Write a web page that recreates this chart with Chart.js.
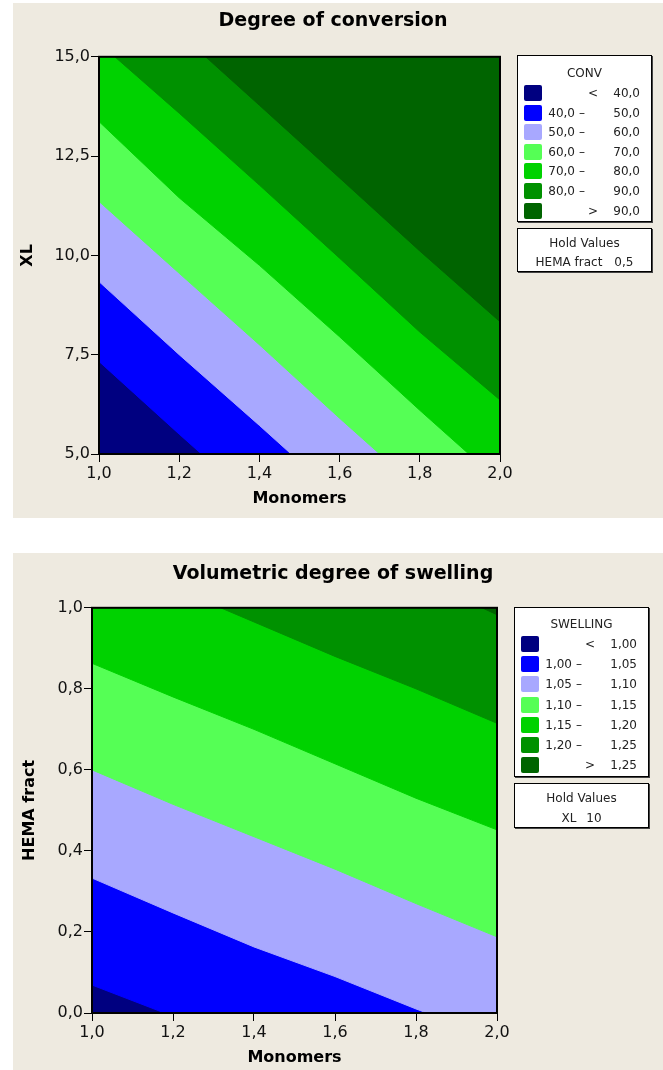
<!DOCTYPE html>
<html>
<head>
<meta charset="utf-8">
<script src="https://cdn.jsdelivr.net/npm/chart.js@4.4.1/dist/chart.umd.min.js"></script>
<style>
  body { margin: 0; background: #fff; width: 663px; height: 1070px; position: relative; overflow: hidden; font-family: "DejaVu Sans", sans-serif; }
  .panel { position: absolute; left: 13px; width: 650px; background: #EEEAE0; }
  .panel canvas { position: absolute; left: 0; top: 0; }
  .lg { position: absolute; background: #fff; border: 1px solid #000; box-shadow: 1px 1px 0 #444; font-size: 12px; color: #222; }
  .lg .t { position: absolute; left: 0; right: 0; text-align: center; height: 16px; line-height: 16px; }
  .lg .row { position: absolute; left: 0; right: 0; height: 16px; line-height: 16px; }
  .lg .sw { position: absolute; width: 18px; height: 16px; top: 0; border-radius: 2px; }
  .lg .n1, .lg .n2 { position: absolute; text-align: right; width: 40px; }
  .lg .op { position: absolute; }
</style>
</head>
<body>
<div class="panel" id="p1" style="top:3px;height:515px;">
  <canvas id="convChart" width="650" height="515"></canvas>
  <div class="lg" id="convLegend" style="left:504px;top:52px;width:133px;height:165px;"></div>
  <div class="lg" id="convHold" style="left:504px;top:225px;width:133px;height:42px;"></div>
</div>
<div class="panel" id="p2" style="top:553px;height:517px;">
  <canvas id="swellChart" width="650" height="517"></canvas>
  <div class="lg" id="swellLegend" style="left:501px;top:54px;width:133px;height:168px;"></div>
  <div class="lg" id="swellHold" style="left:501px;top:230px;width:133px;height:43px;"></div>
</div>
<script>
const monomers = [1.0, 1.2, 1.4, 1.6, 1.8, 2.0];
const xTicks = [1.0, 1.2, 1.4, 1.6, 1.8, 2.0];

// Degree of conversion: XL value of each contour line at the monomers grid
const convLevels = [40, 50, 60, 70, 80, 90];
const conv40 = [7.33, 5.5, 3.7, 1.9, 0.1, -1.7];
const conv50 = [9.34, 7.5, 5.72, 3.9, 2.1, 0.3];
const conv60 = [11.36, 9.55, 7.75, 5.9, 4.1, 2.3];
const conv70 = [13.37, 11.45, 9.75, 7.95, 6.1, 4.3];
const conv80 = [15.35, 13.58, 11.77, 9.93, 8.07, 6.36];
const conv90 = [17.4, 15.6, 13.78, 11.95, 10.11, 8.33];
const convYTicks = [5, 7.5, 10, 12.5, 15];

// Volumetric swelling: HEMA fract value of each contour line
const swellLevels = [1.00, 1.05, 1.10, 1.15, 1.20, 1.25];
const swell100 = [0.069, -0.008, -0.085, -0.16, -0.24, -0.32];
const swell105 = [0.333, 0.247, 0.163, 0.09, 0.01, -0.065];
const swell110 = [0.600, 0.515, 0.435, 0.355, 0.27, 0.188];
const swell115 = [0.863, 0.78, 0.70, 0.615, 0.53, 0.452];
const swell120 = [1.132, 1.05, 0.965, 0.88, 0.80, 0.715];
const swell125 = [1.42, 1.34, 1.25, 1.165, 1.075, 0.983];
const swellYTicks = [0, 0.2, 0.4, 0.6, 0.8, 1.0];

const bandColors = ["#000080", "#0000FF", "#A8A8FF", "#55FF55", "#00D200", "#009100", "#006400"];

function fmt(v, d) { return v.toFixed(d).replace(".", ","); }

// plot background = lowest band, and the black frame round the plot
const plotBg = {
  id: "plotBg",
  beforeDatasetsDraw(chart) {
    const a = chart.chartArea, ctx = chart.ctx;
    ctx.save();
    ctx.fillStyle = bandColors[0];
    ctx.fillRect(a.left, a.top, a.right - a.left, a.bottom - a.top);
    ctx.restore();
  },
  afterDatasetsDraw(chart) {
    const a = chart.chartArea, ctx = chart.ctx;
    ctx.save();
    ctx.strokeStyle = "#000";
    ctx.lineWidth = 2;
    ctx.strokeRect(a.left, a.top, a.right - a.left, a.bottom - a.top);
    ctx.restore();
  }
};

function makeContour(id, c) {
  const datasets = c.lines.map((ys, i) => ({
    data: monomers.map((x, j) => ({ x: x, y: ys[j] })),
    backgroundColor: bandColors[i + 1],
    borderColor: bandColors[i + 1],
    borderWidth: 1,
    pointRadius: 0,
    tension: 0,
    fill: "end",
    clip: 0,
    order: c.lines.length - i
  }));
  const tickFont = { family: "DejaVu Sans", size: 16 };
  const titleFont = { family: "DejaVu Sans", size: 16, weight: "bold" };
  return new Chart(document.getElementById(id), {
    type: "line",
    data: { datasets: datasets },
    plugins: [plotBg],
    options: {
      responsive: false,
      animation: false,
      devicePixelRatio: 1,
      events: [],
      layout: { padding: { left: 0, right: 10, top: 0, bottom: 0 } },
      plugins: {
        legend: { display: false },
        tooltip: { enabled: false },
        title: {
          display: true,
          text: c.title,
          color: "#000",
          font: { family: "DejaVu Sans", size: 19, weight: "bold" },
          padding: c.titlePad
        }
      },
      scales: {
        x: {
          type: "linear",
          min: 1, max: 2,
          afterBuildTicks: s => { s.ticks = xTicks.map(v => ({ value: v })); },
          afterFit: s => { s.height = c.xHeight; },
          ticks: { color: "#111", font: tickFont, padding: 2, maxRotation: 0, callback: v => fmt(v, 1) },
          grid: { drawOnChartArea: false, drawTicks: true, tickLength: 8, color: "#000" },
          border: { display: false },
          title: { display: true, text: "Monomers", color: "#000", font: titleFont, padding: { top: 0, bottom: c.xTitlePad } }
        },
        y: {
          type: "linear",
          min: c.yMin, max: c.yMax,
          afterBuildTicks: s => { s.ticks = c.yTicks.map(v => ({ value: v })); },
          afterFit: s => { s.width = c.yWidth; },
          ticks: { color: "#111", font: tickFont, padding: 1, callback: v => fmt(v, 1) },
          grid: { drawOnChartArea: false, drawTicks: true, tickLength: 8, color: "#000" },
          border: { display: false },
          title: { display: true, text: c.yTitle, color: "#000", font: titleFont, padding: { top: c.yTitlePad, bottom: 0 } }
        },
        yr: {
          type: "linear",
          position: "right",
          ticks: { display: false },
          grid: { display: false },
          border: { display: false },
          afterFit: s => { s.width = c.rightWidth; }
        }
      }
    }
  });
}

function buildLegend(boxId, holdId, name, levels, dec, rowTop, rowStep, hold) {
  const box = document.getElementById(boxId);
  let html = '<div class="t" style="top:' + (rowTop - rowStep - 8) + 'px">' + name + '</div>';
  for (let i = 0; i <= levels.length; i++) {
    const top = rowTop + i * rowStep - 8;
    let txt;
    if (i === 0) txt = '<span class="op" style="left:70px">&lt;</span><span class="n2" style="left:82px">' + fmt(levels[0], dec) + '</span>';
    else if (i === levels.length) txt = '<span class="op" style="left:70px">&gt;</span><span class="n2" style="left:82px">' + fmt(levels[i - 1], dec) + '</span>';
    else txt = '<span class="n1" style="left:17px">' + fmt(levels[i - 1], dec) + '</span><span class="op" style="left:61px">&ndash;</span><span class="n2" style="left:82px">' + fmt(levels[i], dec) + '</span>';
    html += '<div class="row" style="top:' + top + 'px"><span class="sw" style="left:6px;background:' + bandColors[i] + '"></span>' + txt + '</div>';
  }
  box.innerHTML = html;
  document.getElementById(holdId).innerHTML =
    '<div class="t" style="top:6px">Hold Values</div><div class="t" style="top:' + hold.y + 'px">' + hold.text + '</div>';
}

makeContour("convChart", {
  title: "Degree of conversion",
  titlePad: { top: 7, bottom: 24 },
  lines: [conv40, conv50, conv60, conv70, conv80, conv90],
  yMin: 5, yMax: 15, yTicks: convYTicks,
  yTitle: "XL",
  yWidth: 86, rightWidth: 153, xHeight: 64,
  xTitlePad: 10, yTitlePad: 5
});

makeContour("swellChart", {
  title: "Volumetric degree of swelling",
  titlePad: { top: 10, bottom: 22 },
  lines: [swell100, swell105, swell110, swell115, swell120, swell125],
  yMin: 0, yMax: 1, yTicks: swellYTicks,
  yTitle: "HEMA fract",
  yWidth: 79, rightWidth: 156, xHeight: 57,
  xTitlePad: 3, yTitlePad: 7
});

buildLegend("convLegend", "convHold", "CONV", convLevels, 1, 37, 19.6,
  { y: 25, text: 'HEMA fract<span style="margin-left:12px">0,5</span>' });
buildLegend("swellLegend", "swellHold", "SWELLING", swellLevels, 2, 36, 20.2,
  { y: 26, text: 'XL<span style="margin-left:10px">10</span>' });
</script>
</body>
</html>
